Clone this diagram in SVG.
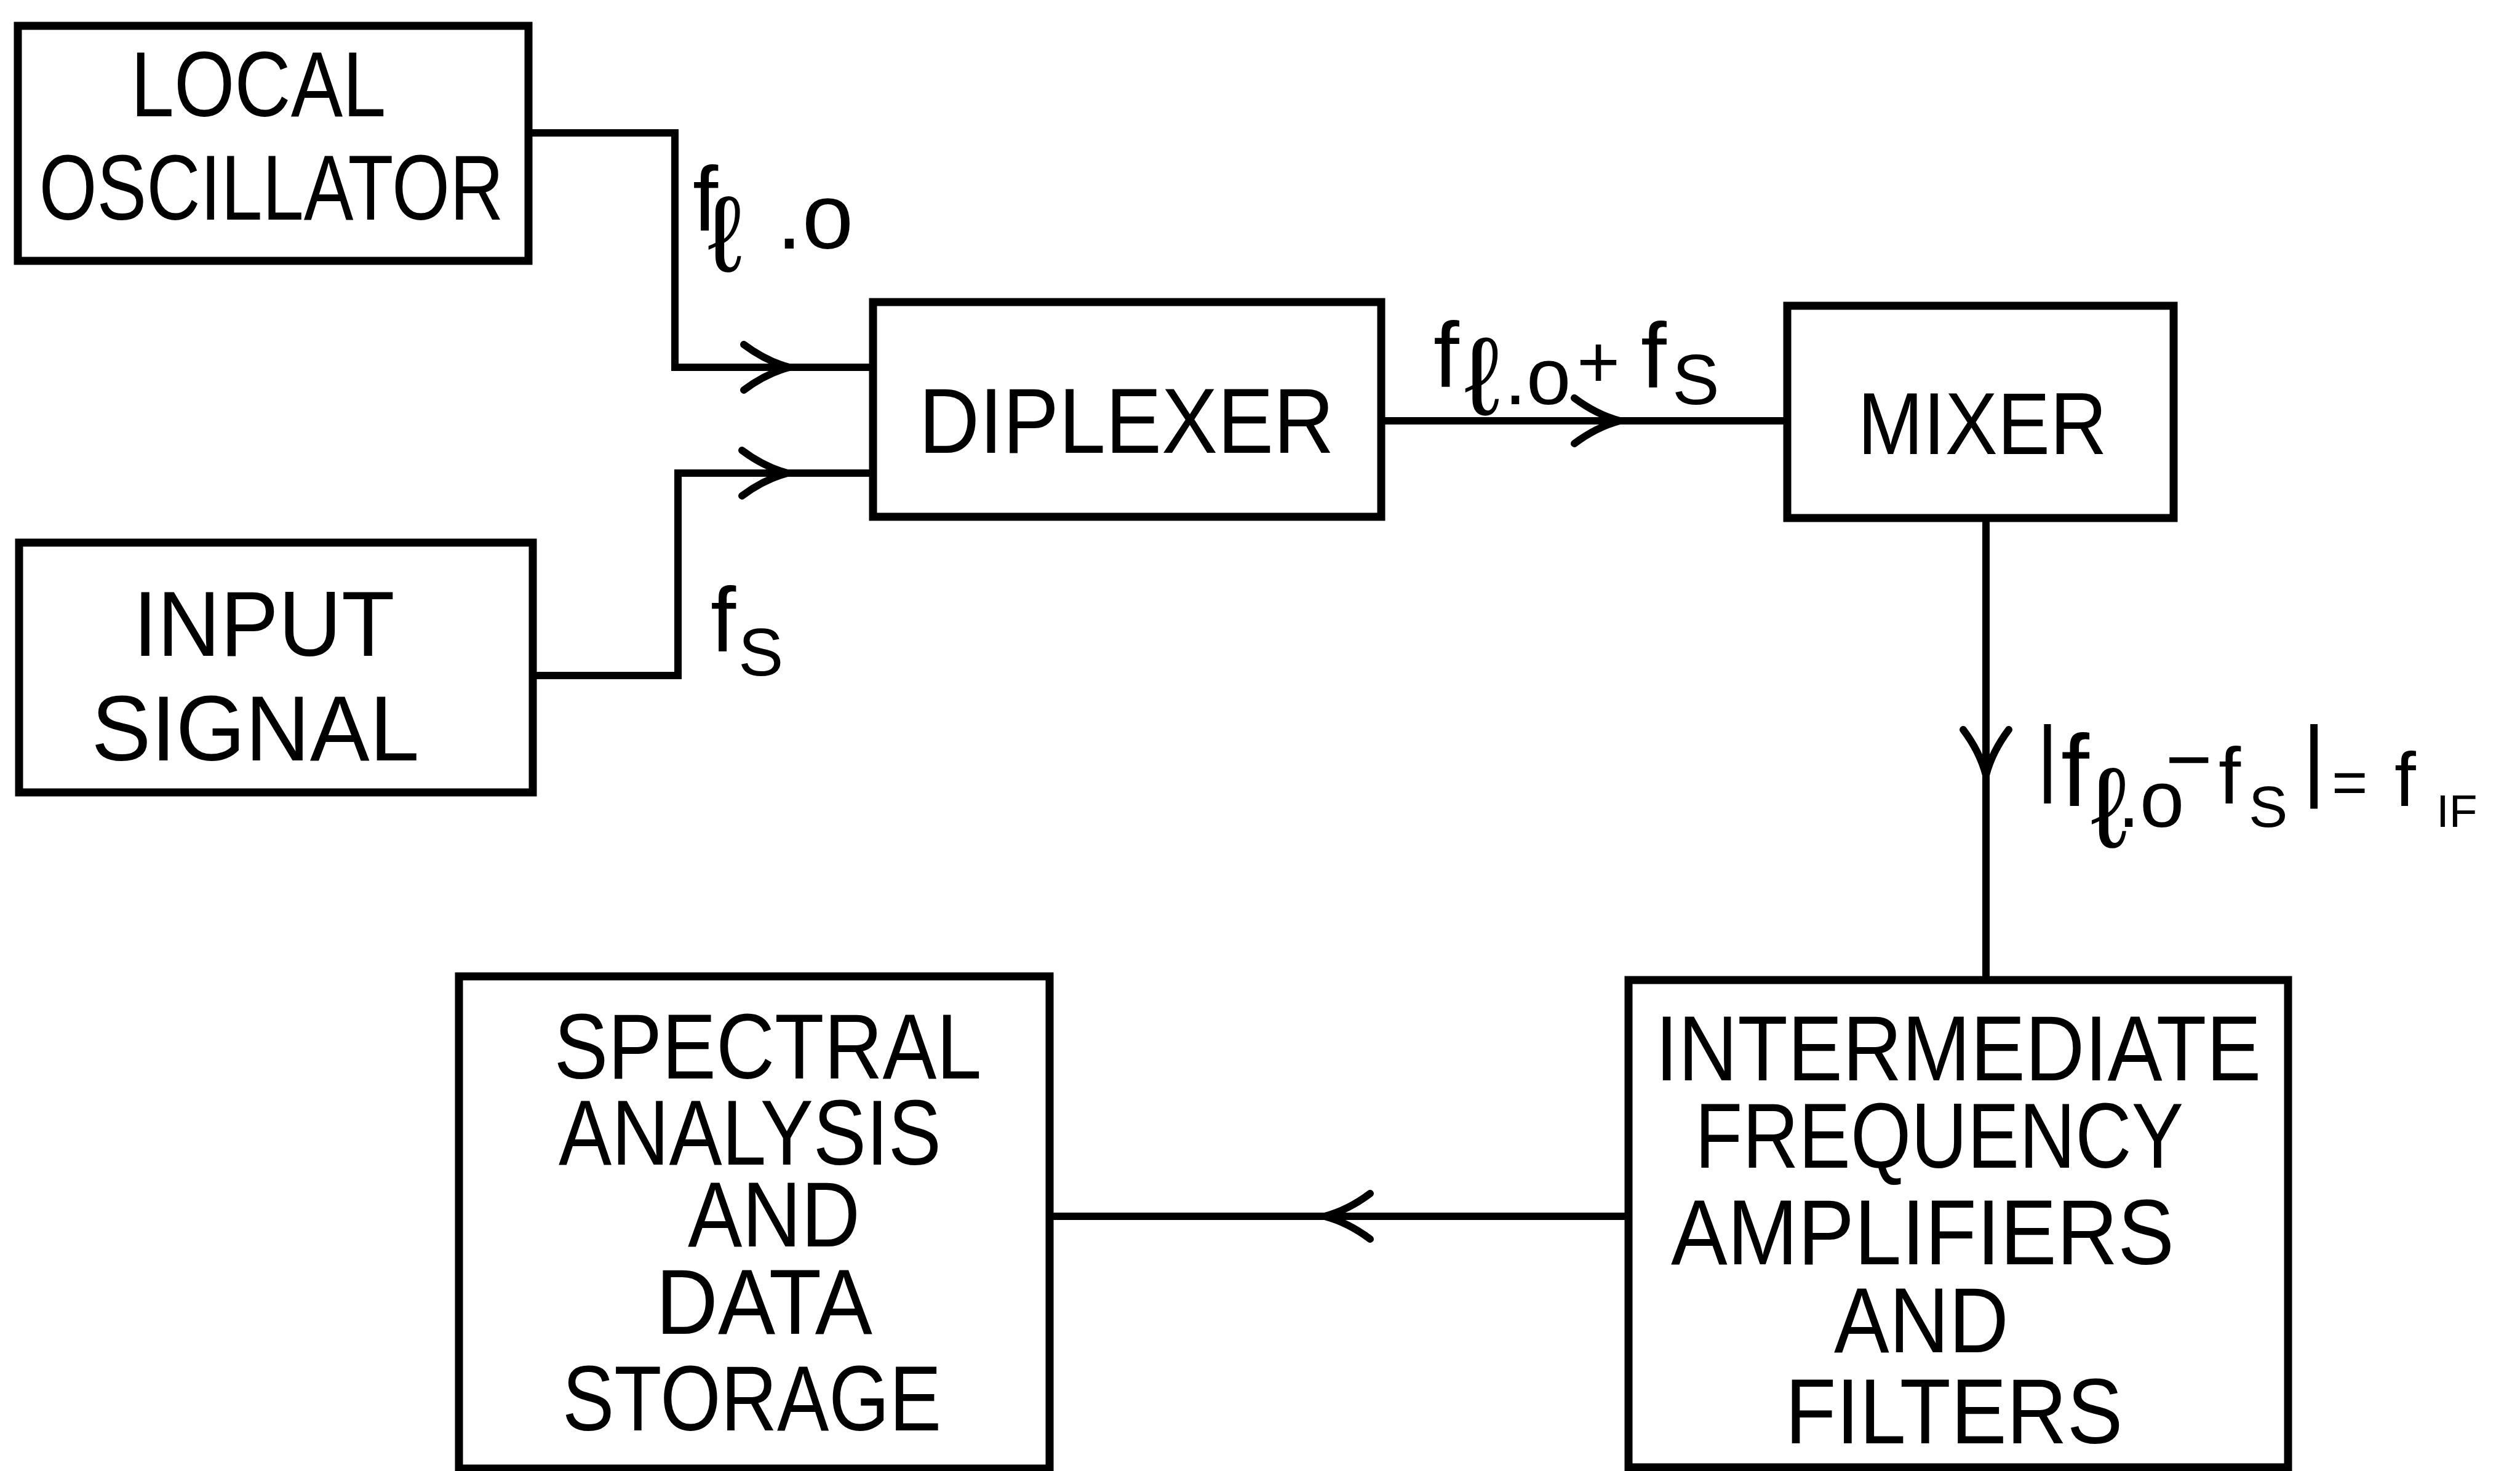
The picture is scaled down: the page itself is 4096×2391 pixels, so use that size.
<svg xmlns="http://www.w3.org/2000/svg" xmlns:xlink="http://www.w3.org/1999/xlink" width="4096" height="2391" viewBox="0 0 4096 2391">
<style>
.box{fill:none;stroke:#000;stroke-width:13;stroke-linejoin:miter}
.lbl{font-family:"Liberation Sans","DejaVu Sans",sans-serif;font-size:150px;fill:#000;text-anchor:middle}
.conn{fill:none;stroke:#000;stroke-width:12;stroke-linejoin:miter}
.sig{font-family:"Liberation Sans","DejaVu Sans",sans-serif;fill:#000}
</style>
<defs>
<path id="ah" d="M-74,-37 Q-38,-10 0,0 Q-38,10 -74,37" fill="none" stroke="#000" stroke-width="12" stroke-linecap="round"/>
</defs>
<rect x="0" y="0" width="4096" height="2391" fill="#fff"/>

<g id="local-oscillator">
<rect class="box" x="29" y="42" width="830" height="382"/>
<text class="lbl" x="420" y="189" textLength="415" lengthAdjust="spacingAndGlyphs">LOCAL</text>
<text class="lbl" x="441" y="357" textLength="755" lengthAdjust="spacingAndGlyphs">OSCILLATOR</text>
</g>

<g id="input-signal">
<rect class="box" x="31" y="882" width="835" height="406"/>
<text class="lbl" x="429" y="1066" textLength="425" lengthAdjust="spacingAndGlyphs">INPUT</text>
<text class="lbl" x="415" y="1236" textLength="533" lengthAdjust="spacingAndGlyphs">SIGNAL</text>
</g>

<g id="diplexer">
<rect class="box" x="1419" y="491" width="826" height="349"/>
<text class="lbl" x="1831" y="736" textLength="675" lengthAdjust="spacingAndGlyphs">DIPLEXER</text>
</g>

<g id="mixer">
<rect class="box" x="2905" y="497" width="628" height="345"/>
<text class="lbl" x="3222" y="738" textLength="405" lengthAdjust="spacingAndGlyphs" style="font-size:142px">MIXER</text>
</g>

<g id="spectral-analysis">
<rect class="box" x="746" y="1587" width="960" height="800"/>
<text class="lbl" x="1248" y="1753" textLength="695" lengthAdjust="spacingAndGlyphs">SPECTRAL</text>
<text class="lbl" x="1219" y="1893" textLength="622" lengthAdjust="spacingAndGlyphs">ANALYSIS</text>
<text class="lbl" x="1258" y="2026" textLength="280" lengthAdjust="spacingAndGlyphs">AND</text>
<text class="lbl" x="1242" y="2168" textLength="352" lengthAdjust="spacingAndGlyphs">DATA</text>
<text class="lbl" x="1222" y="2325" textLength="616" lengthAdjust="spacingAndGlyphs">STORAGE</text>
</g>

<g id="if-amplifiers">
<rect class="box" x="2647" y="1593" width="1072" height="792"/>
<text class="lbl" x="3183" y="1756" textLength="985" lengthAdjust="spacingAndGlyphs">INTERMEDIATE</text>
<text class="lbl" x="3152" y="1898" textLength="794" lengthAdjust="spacingAndGlyphs">FREQUENCY</text>
<text class="lbl" x="3125" y="2055" textLength="818" lengthAdjust="spacingAndGlyphs">AMPLIFIERS</text>
<text class="lbl" x="3123" y="2198" textLength="284" lengthAdjust="spacingAndGlyphs">AND</text>
<text class="lbl" x="3176" y="2346" textLength="549" lengthAdjust="spacingAndGlyphs">FILTERS</text>
</g>

<g id="connectors">
<path class="conn" d="M859,216 H1097 V597 H1419"/>
<path class="conn" d="M866,1098 H1102 V769 H1419"/>
<path class="conn" d="M2245,684 H2905"/>
<path class="conn" d="M3228,842 V1593"/>
<path class="conn" d="M2647,1977 H1706"/>
<use xlink:href="#ah" transform="translate(1283,597)"/>
<use xlink:href="#ah" transform="translate(1280,769)"/>
<use xlink:href="#ah" transform="translate(2633,684)"/>
<use xlink:href="#ah" transform="translate(3228,1260) rotate(90)"/>
<use xlink:href="#ah" transform="translate(2153,1977) rotate(180)"/>

<text class="sig"><tspan x="1126" y="375" font-size="148">f</tspan><tspan x="1150" y="441" font-size="175">ℓ</tspan><tspan x="1262" y="404" font-size="150">.o</tspan></text>
<text class="sig"><tspan x="1155" y="1059" font-size="148">f</tspan><tspan x="1200" y="1098" font-size="110">S</tspan></text>
<text class="sig"><tspan x="2330" y="629" font-size="150">f</tspan><tspan x="2380" y="674" font-size="180">ℓ</tspan><tspan x="2445" y="657" font-size="130">.o</tspan><tspan x="2563" y="630" font-size="120">+</tspan><tspan x="2667" y="630" font-size="150">f</tspan><tspan x="2718" y="657" font-size="115">S</tspan></text>
<text class="sig"><tspan x="3310" y="1277" font-size="138">|</tspan><tspan x="3350" y="1310" font-size="165">f</tspan><tspan x="3398" y="1377" font-size="185">ℓ</tspan><tspan x="3442" y="1344" font-size="130">.o</tspan><tspan x="3520" y="1279" font-size="130">−</tspan><tspan x="3606" y="1306" font-size="130">f</tspan><tspan x="3655" y="1344" font-size="95">S</tspan><tspan x="3742" y="1283" font-size="147">|</tspan><tspan x="3790" y="1306" font-size="100">=</tspan><tspan x="3892" y="1310" font-size="125">f</tspan><tspan x="3960" y="1344" font-size="75">IF</tspan></text>
</g>
</svg>
